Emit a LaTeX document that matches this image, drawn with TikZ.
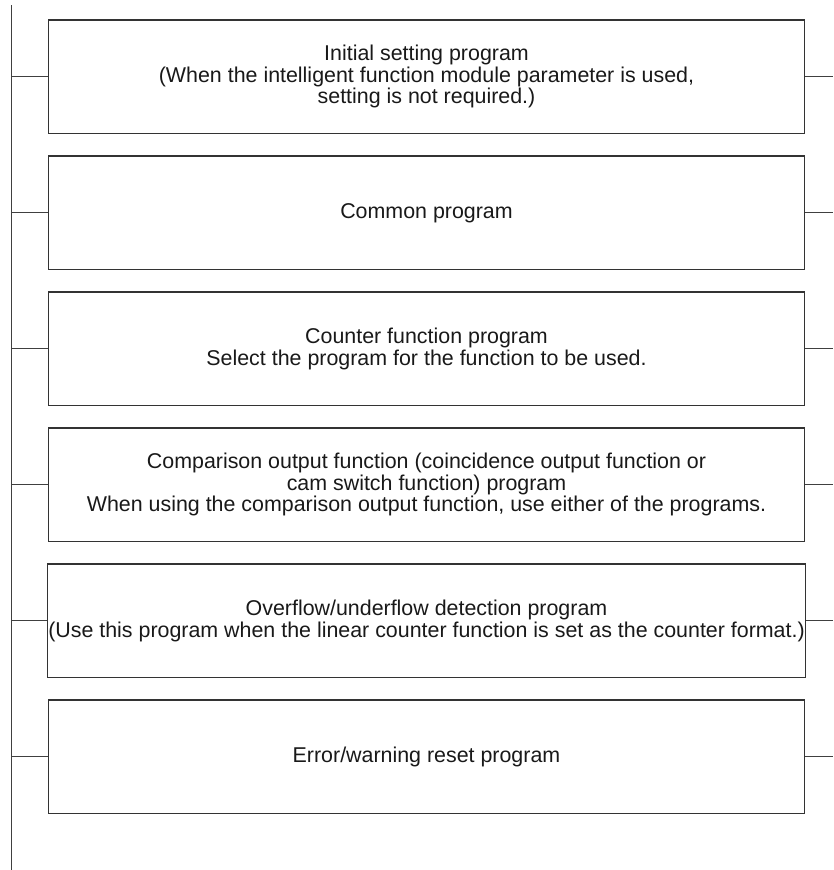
\documentclass[tikz,border=0pt]{standalone}
\usepackage{fontspec}
\setmainfont{Liberation Sans}
\usetikzlibrary{positioning}

\begin{document}
\begin{tikzpicture}[x=1pt, y=1pt,
    prog/.style={rectangle, draw=black!80, line width=1.2pt, fill=white,
                 minimum width=756pt, minimum height=113.5pt, inner sep=1pt,
                 align=center, text=black!90,
                 font=\fontsize{21.4}{21.6}\selectfont},
    rung/.style={line width=1pt, color=black!75},
    node distance=21.3pt
]
\useasboundingbox (0,0) rectangle (833,-870);

% Power rails
\coordinate (railtop) at (11,-5);
\coordinate (railbot) at (11,-870);
\coordinate (rightend) at (833,0);
\draw[rung] (railtop) -- (railbot);

% Box 1
\node[prog] (p1) at (426.5,-76.75)
    {Initial setting program\\
     (When the intelligent function module parameter is used,\\
     setting is not required.)};

% Box 2
\node[prog, below=of p1] (p2) {Common program};

% Box 3
\node[prog, below=of p2] (p3)
    {Counter function program\\
     Select the program for the function to be used.};

% Box 4
\node[prog, below=of p3] (p4)
    {Comparison output function (coincidence output function or\\
     cam switch function) program\\
     When using the comparison output function, use either of the programs.};

% Box 5
\node[prog, below=of p4] (p5)
    {Overflow/underflow detection program\\
     (Use this program when the linear counter function is set as the counter format.)};

% Box 6
\node[prog, below=of p5] (p6) {Error/warning reset program};

% Rungs to the rails
\draw[rung] (p1.west -| railtop) -- (p1.west);
\draw[rung] (p1.east) -- (p1.east -| rightend);
\draw[rung] (p2.west -| railtop) -- (p2.west);
\draw[rung] (p2.east) -- (p2.east -| rightend);
\draw[rung] (p3.west -| railtop) -- (p3.west);
\draw[rung] (p3.east) -- (p3.east -| rightend);
\draw[rung] (p4.west -| railtop) -- (p4.west);
\draw[rung] (p4.east) -- (p4.east -| rightend);
\draw[rung] (p5.west -| railtop) -- (p5.west);
\draw[rung] (p5.east) -- (p5.east -| rightend);
\draw[rung] (p6.west -| railtop) -- (p6.west);
\draw[rung] (p6.east) -- (p6.east -| rightend);
\end{tikzpicture}
\end{document}
